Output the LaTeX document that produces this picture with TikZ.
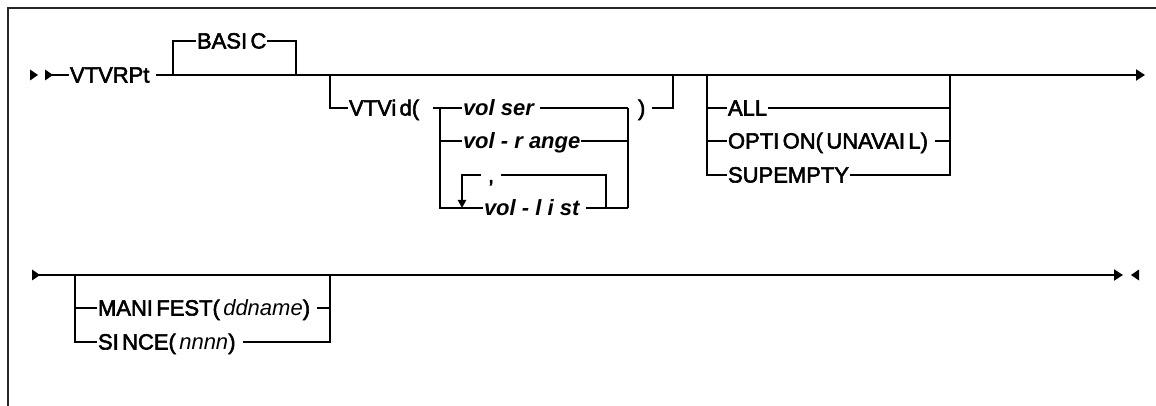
\documentclass[tikz,border=0pt]{standalone}
\usepackage{fontspec}
\setmainfont{Liberation Sans}[WordSpace=0.55, BoldFont={Liberation Sans},
    BoldFeatures={FakeBold=2.5}]
\newfontfamily\varfont{Liberation Sans}
\usepackage{tikz}
\usetikzlibrary{calc, arrows.meta}

\begin{document}
\begin{tikzpicture}[x=0.5pt, y=-0.5pt, line width=1pt,
    >={Triangle[length=4.5pt, width=5.5pt]},
    kw/.style={anchor=west, inner sep=0pt, text height=7.5pt, text depth=0pt,
        font=\fontsize{11}{13}\selectfont\bfseries},
    var/.style={kw, font=\fontsize{11}{13}\selectfont\varfont\bfseries\itshape},
    fwd/.pic={\fill (0,-5.5) -- (8,0) -- (0,5.5) -- cycle;},
    bwd/.pic={\fill (0,-5.5) -- (-8,0) -- (0,5.5) -- cycle;}]
    \useasboundingbox (0,0) rectangle (1156,406);

    % Frame (top and left only)
    \draw[black!85] (1156,8) -- (8,8) -- (8,406);

    % Row 1: main line
    \pic at (30,75) {fwd};
    \pic at (45,75) {fwd};
    \coordinate (s0) at (52,75);
    \node[kw] (verb) at (69,75) {VTVRPt};
    \coordinate (e1) at (1145,75);
    \draw (s0) -- (verb.west);
    \draw[->, shorten <=3pt] (verb.east) -- (e1);

    % Junctions on row 1
    \coordinate (b1) at (173,75);
    \coordinate (b2) at (296,75);
    \coordinate (v1) at (330,75);
    \coordinate (v2) at (673,75);
    \coordinate (a1) at (707,75);
    \coordinate (a2) at (950,75);

    % Default BASIC above the line
    \node[kw] (basic) at (196,41) {BASI C};
    \draw (b1) |- (basic.west);
    \draw (basic.east) -| (b2);

    % VTVid( ... ) branch
    \node[kw] (vtvid) at (348,108) {VTVi d(};
    \draw (v1) |- (vtvid.west);
    \coordinate (c0) at (433,108);
    \coordinate (c1) at (440,108);
    \coordinate (c2) at (628,108);
    \coordinate (c3) at (628,208);
    \node[var] (volser) at (462,108) {vol ser};
    \node[var] (volrange) at (462,141) {vol - r ange};
    \node[var] (vollist) at (483,208) {vol - l i st};
    \draw (c0) -- (volser.west);
    \draw[shorten <=2.5pt] (volser.east) -- (c2);
    \draw (c1) |- (volrange.west);
    \draw (volrange.east) -- (volrange -| c2);
    \draw (c1) |- (vollist.west);
    \draw[shorten <=3pt] (vollist.east) -- (c3);
    \draw (c2) -- (c3);

    % Repeat loop with separator
    \coordinate (r3) at (606,208);
    \coordinate (r4) at (462,208);
    \node[kw, inner xsep=3pt] (sep) at (481,175) {,};
    \draw (r3) |- (sep.east);
    \draw[-{Triangle[length=4pt, width=4pt]}] (sep.west) -| (r4);

    % Closing parenthesis back to the main line
    \node[kw] (rpar) at (637,108) {)};
    \draw[shorten <=3pt] (rpar.east) -| (v2);

    % ALL / OPTION / SUPEMPTY
    \node[kw] (all) at (727,108) {ALL};
    \node[kw] (option) at (727,141) {OPTI ON( UNAVAI L)};
    \node[kw] (supempty) at (727,175) {SUPEMPTY};
    \draw (a1) |- (all.west);
    \draw (a1) |- (option.west);
    \draw (a1) |- (supempty.west);
    \draw (all.east) -| (a2);
    \draw[shorten <=3pt] (option.east) -- (option -| a2);
    \draw (supempty.east) -| (a2);

    % Row 2: main line
    \pic at (32,275) {fwd};
    \coordinate (t0) at (39,275);
    \coordinate (t1) at (1123,275);
    \draw[->] (t0) -- (t1);
    \pic at (1139,275) {bwd};

    % MANIFEST / SINCE
    \coordinate (m1) at (75,275);
    \coordinate (m2) at (330,275);
    \node[kw] (manifest) at (97,308) {MANI FEST( {\mdseries\itshape ddname})};
    \node[kw] (since) at (97,342) {SI NCE( {\mdseries\itshape nnnn})};
    \draw (m1) |- (manifest.west);
    \draw (m1) |- (since.west);
    \draw[shorten <=3pt] (manifest.east) -| (m2);
    \draw[shorten <=3pt] (since.east) -| (m2);
\end{tikzpicture}
\end{document}
